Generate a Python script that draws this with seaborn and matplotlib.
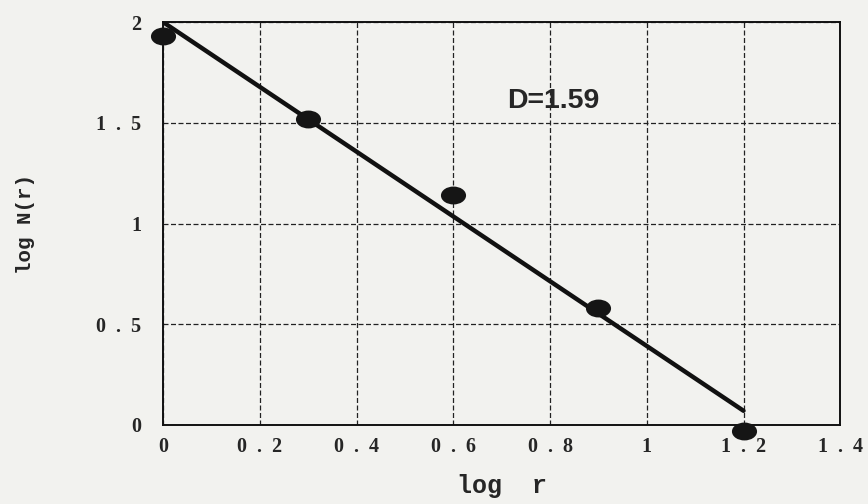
import numpy as np
import pandas as pd
import matplotlib
matplotlib.use("Agg")
import matplotlib.pyplot as plt
import seaborn as sns
from matplotlib.path import Path

# measured points (log r, log N(r))
log_r = [0.0, 0.3, 0.6, 0.9, 1.2]
log_n = [1.93, 1.52, 1.14, 0.58, -0.03]

# fitted line end points
fit_r = [0.0, 1.2]
fit_n = [2.0, 0.07]

x_ticks = [0, 0.2, 0.4, 0.6, 0.8, 1.0, 1.2, 1.4]
x_tick_labels = ["0", "0  .  2", "0  .  4", "0  .  6", "0  .  8", "1", "1  .  2", "1  .  4"]
y_ticks = [0, 0.5, 1, 1.5, 2]
y_tick_labels = ["0", "0  .  5", "1", "1  .  5", "2"]

slope_label = "D=1.59"

sns.set_style("white")
plt.rcParams["font.family"] = ["Liberation Serif", "DejaVu Serif"]

paper = "#f2f2ef"
fig = plt.figure(figsize=(8.68, 5.04), dpi=100, facecolor=paper)
ax = fig.add_axes([0.188, 0.157, 0.78, 0.799])
ax.set_facecolor(paper)

# wide ellipse marker like the original
circle = Path.unit_circle()
ellipse = Path(circle.vertices * np.array([1.45, 1.0]), circle.codes)

pts = pd.DataFrame({"log_r": log_r, "log_n": log_n})
fit = pd.DataFrame({"log_r": fit_r, "log_n": fit_n})

sns.lineplot(data=fit, x="log_r", y="log_n", ax=ax, color="#111111", linewidth=3.2, zorder=3)
sns.scatterplot(data=pts, x="log_r", y="log_n", ax=ax, marker=ellipse, s=280,
                color="#151515", edgecolor="#151515", zorder=4, clip_on=False)

ax.set_xlim(0, 1.4)
ax.set_ylim(0, 2)
ax.set_xticks(x_ticks)
ax.set_xticklabels(x_tick_labels)
ax.set_yticks(y_ticks)
ax.set_yticklabels(y_tick_labels)
ax.tick_params(axis="x", length=0, pad=9, labelsize=14.5)
ax.tick_params(axis="y", length=0, pad=16, labelsize=14.5)
for lbl in ax.get_xticklabels() + ax.get_yticklabels():
    lbl.set_fontweight("bold")

ax.grid(True, linestyle=(0, (4, 2)), color="#222222", linewidth=0.9)
for s in ax.spines.values():
    s.set_visible(True)
    s.set_color("#111111")
    s.set_linewidth(1.4)

ax.set_xlabel("log  r", fontsize=18, fontweight="bold", family="Liberation Mono", labelpad=12)
ax.set_ylabel("log N(r)", fontsize=15, fontweight="bold", family="Liberation Mono")
ax.yaxis.set_label_coords(-0.19, 0.5)

ax.text(0.711, 1.61, slope_label, fontsize=20.5, fontweight="bold",
        family="Liberation Sans", va="center", ha="left")

fig.savefig("out.png", dpi=100, facecolor=paper)
